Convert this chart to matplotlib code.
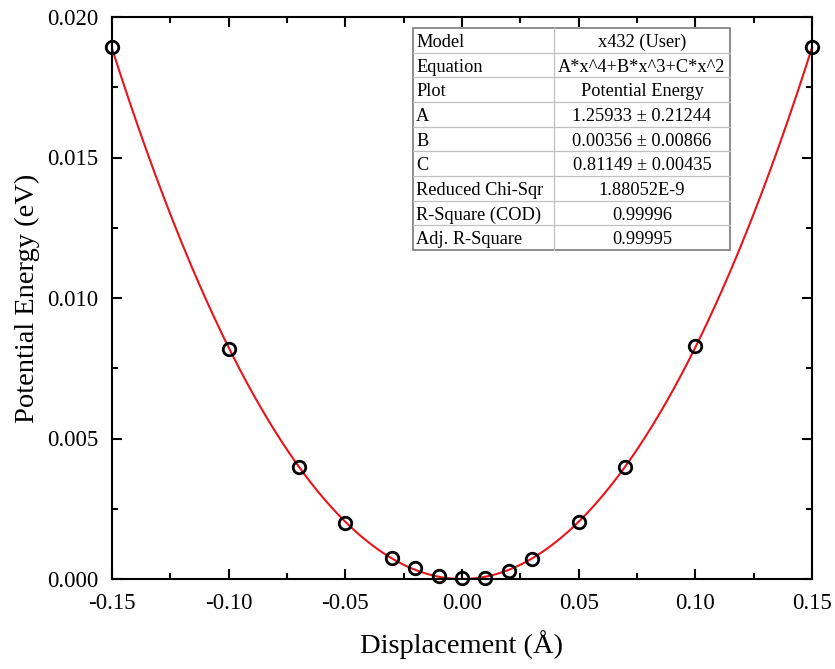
import numpy as np
import matplotlib
matplotlib.use("Agg")
import matplotlib.pyplot as plt
from matplotlib.ticker import MultipleLocator
from matplotlib.lines import Line2D
from matplotlib.patches import Rectangle

plt.rcParams['font.family'] = ['Liberation Serif', 'DejaVu Serif']

displacement = [-0.15, -0.10, -0.07, -0.05, -0.03, -0.02, -0.01, 0.0, 0.01, 0.02, 0.03, 0.05, 0.07, 0.10, 0.15]
energy = [0.01893, 0.00819, 0.00399, 0.00200, 0.00075, 0.00039, 0.00010, 0.00002, 0.00002, 0.00028, 0.00071, 0.00203, 0.00399, 0.00829, 0.01893]

A, B, C = 1.25933, 0.00356, 0.81149

table_labels = ["Model", "Equation", "Plot", "A", "B", "C",
                "Reduced Chi-Sqr", "R-Square (COD)", "Adj. R-Square"]
table_values = ["x432 (User)", "A*x^4+B*x^3+C*x^2", "Potential Energy",
                "1.25933 \u00b1 0.21244", "0.00356 \u00b1 0.00866", "0.81149 \u00b1 0.00435",
                "1.88052E-9", "0.99996", "0.99995"]

W, H = 835, 669
fig = plt.figure(figsize=(W/100, H/100), dpi=100)
ax = fig.add_axes([112/W, 1-579/H, 700/W, 562/H])

xf = np.linspace(-0.15, 0.15, 400)
yf = A*xf**4 + B*xf**3 + C*xf**2
ax.plot(xf, yf, color='#e8141c', lw=1.5, zorder=2)
ax.plot(displacement, energy, linestyle='none', marker='o', markersize=9,
        markerfacecolor='none', markeredgecolor='black', markeredgewidth=2, zorder=3, clip_on=False)

ax.set_xlim(-0.15, 0.15)
ax.set_ylim(0, 0.020)
ax.xaxis.set_minor_locator(MultipleLocator(0.025))
ax.yaxis.set_minor_locator(MultipleLocator(0.0025))
ax.set_xticks(np.arange(-0.15, 0.151, 0.05))
ax.set_xticklabels(['-0.15', '-0.10', '-0.05', '0.00', '0.05', '0.10', '0.15'])
ax.set_yticks(np.arange(0, 0.0201, 0.005))
ax.set_yticklabels(['0.000', '0.005', '0.010', '0.015', '0.020'])
ax.tick_params(which='both', direction='in', top=True, right=True, width=1.5, labelsize=16.5)
ax.tick_params(which='major', length=7)
ax.tick_params(axis='x', which='major', pad=10)
ax.tick_params(axis='y', which='major', pad=10)
ax.tick_params(which='minor', length=4)
for s in ax.spines.values():
    s.set_linewidth(1.5)

ax.set_xlabel('Displacement (\u00c5)', fontsize=20.5, labelpad=12)
ax.set_ylabel('Potential Energy (eV)', fontsize=20.5, labelpad=5)

# statistics table drawn in figure pixel coordinates
def fx(px):
    return px / W

def fy(py):
    return 1 - py / H

tl, tr, tc = 413, 730, 554
tt, tbm = 28, 250
n = len(table_labels)
rh = (tbm - tt) / n
fig.patches.append(Rectangle((fx(tl), fy(tbm)), fx(tr) - fx(tl), fy(tt) - fy(tbm),
                             transform=fig.transFigure, facecolor='white',
                             edgecolor='#7a7a7a', linewidth=1.2, zorder=5))
for i in range(1, n):
    y = fy(tt + i * rh)
    fig.lines.append(Line2D([fx(tl), fx(tr)], [y, y], transform=fig.transFigure,
                            color='#c0c0c0', lw=0.9, zorder=6))
fig.lines.append(Line2D([fx(tc), fx(tc)], [fy(tt), fy(tbm)], transform=fig.transFigure,
                        color='#c0c0c0', lw=0.9, zorder=6))
for i, (lab, val) in enumerate(zip(table_labels, table_values)):
    yc = fy(tt + (i + 0.5) * rh)
    fig.text(fx(tl + 3), yc, lab, ha='left', va='center_baseline', fontsize=13.2, zorder=7)
    fig.text(fx((tc + tr) / 2), yc, val, ha='center', va='center_baseline', fontsize=13.2, zorder=7)

fig.savefig('out.png', dpi=100)
